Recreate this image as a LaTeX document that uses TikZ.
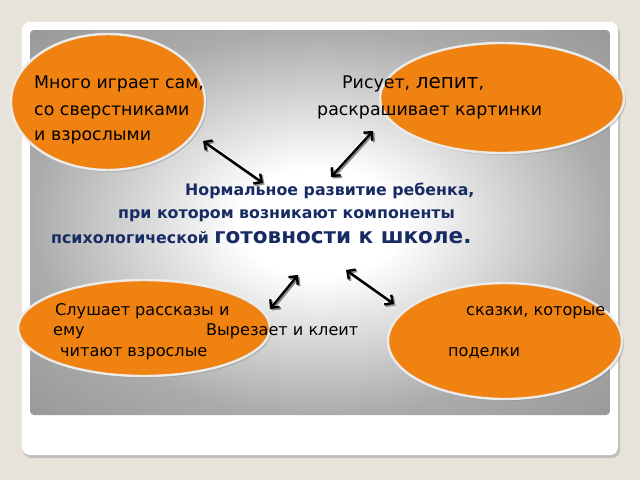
\documentclass[tikz,border=0pt]{standalone}
\usepackage{fontspec}
\setmainfont{DejaVu Sans}
\usepackage{tikz}
\usetikzlibrary{arrows.meta}
\usetikzlibrary{shapes.geometric}
\usetikzlibrary{shadows}
\usetikzlibrary{positioning}
\definecolor{paper}{RGB}{232,227,218}
\definecolor{blob}{RGB}{240,130,18}
\definecolor{navy}{RGB}{24,44,100}
\pgfdeclareradialshading{panelglow}{\pgfpoint{0bp}{0bp}}{%
	color(0bp)=(white); color(7bp)=(white); color(25bp)=(black!33); color(50bp)=(black!50)}

\begin{document}
\begin{tikzpicture}[x=1pt, y=-1pt,
	every node/.style={inner sep=0pt},
	blobnode/.style={ellipse, fill=blob, draw=white!92!black, line width=2.4pt,
		drop shadow={shadow xshift=2pt, shadow yshift=-2pt, opacity=.35}},
	say/.style={anchor=base west, font=\fontsize{17.4}{17.4}\selectfont, text=black},
	saylow/.style={say, font=\fontsize{16.1}{16.1}\selectfont},
	goal/.style={anchor=base west, font=\bfseries\fontsize{15.8}{15.8}\selectfont, text=navy},
	link/.style={{Straight Barb[length=6pt,width=12pt]}-{Straight Barb[length=6pt,width=12pt]},
		line width=2.4pt, black, preaction={draw=white, line width=4.4pt},
		preaction={draw=black!45, line width=2.4pt, transform canvas={xshift=1.5pt, yshift=-1.5pt}}}]
	\useasboundingbox (0,0) rectangle (640,480);
	\fill[paper] (0,0) rectangle (640,480);
	% card and panel
	\fill[black!25, rounded corners=8pt] (23,25) rectangle (620,458);
	\fill[white, rounded corners=8pt] (22,22) rectangle (618,455);
	\shade[shading=panelglow, rounded corners=4pt] (30,30) rectangle (610,415);
	% ellipses
	\node[blobnode, minimum width=194pt, minimum height=136pt] (play) at (108,102) {};
	\node[blobnode, minimum width=244pt, minimum height=110pt] (draw) at (502,98) {};
	\node[blobnode, minimum width=252pt, minimum height=96pt] (listen) at (144,328) {};
	\node[blobnode, minimum width=234pt, minimum height=116pt] (craft) at (505,341) {};
	% texts
	\node[say] (t1) at (34,88) {Много играет сам,};
	\node[say] (t2) at (34,115) {со сверстниками};
	\node[say] (t3) at (34,140) {и взрослыми};
	\node[say] (t4) at (342,88) {Рисует, {\fontsize{20}{20}\selectfont лепит},};
	\node[say] (t5) at (317,115) {раскрашивает картинки};
	\node[goal] (c1) at (185,195) {Нормальное развитие ребенка,};
	\node[goal] (c2) at (118,218) {при котором возникают компоненты};
	\node[goal] (c3) at (51,243) {психологической {\fontsize{21.5}{21.5}\selectfont готовности к школе.}};
	\node[saylow] (t6) at (55,315) {Слушает рассказы и};
	\node[saylow] (t7) at (53,335) {ему};
	\node[saylow] (t8) at (206,335) {Вырезает и клеит};
	\node[saylow] (t9) at (60,356) {читают взрослые};
	\node[saylow] (t10) at (466,315) {сказки, которые};
	\node[saylow] (t11) at (448,356) {поделки};
	% arrows
	\coordinate (a1) at (203,141);
	\coordinate (b1) at (263,183);
	\coordinate (a2) at (373,131);
	\coordinate (b2) at (331,177);
	\coordinate (a3) at (298,275);
	\coordinate (b3) at (270,309);
	\coordinate (a4) at (346,270);
	\coordinate (b4) at (394,304);
	\draw[link] (a1) -- (b1);
	\draw[link] (a2) -- (b2);
	\draw[link] (a3) -- (b3);
	\draw[link] (a4) -- (b4);
\end{tikzpicture}
\end{document}
